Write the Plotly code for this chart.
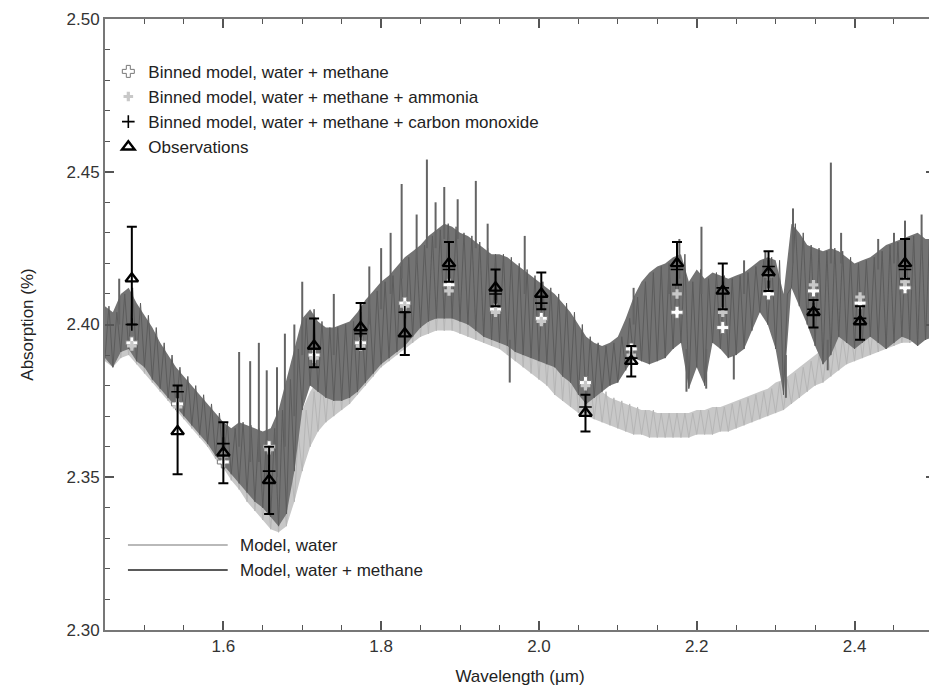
import numpy as np
import plotly.graph_objects as go

# ---------------- data ----------------
# model spectra: envelope of the high-resolution spectra on a 0.01 um grid
grid_start = 1.45
grid_step = 0.01

wm_hi = [  # model, water + methane (upper edge of the dense band)
    2.406, 2.404, 2.410, 2.412, 2.407, 2.403, 2.399, 2.394, 2.390, 2.386,
    2.383, 2.380, 2.377, 2.374, 2.371, 2.368, 2.366, 2.368, 2.367, 2.366,
    2.365, 2.366, 2.372, 2.382, 2.392, 2.402, 2.405, 2.401, 2.399, 2.399,
    2.400, 2.401, 2.404, 2.408, 2.411, 2.414, 2.416, 2.419, 2.422, 2.424,
    2.426, 2.429, 2.431, 2.433, 2.432, 2.430, 2.429, 2.427, 2.425, 2.423,
    2.423, 2.422, 2.420, 2.418, 2.416, 2.414, 2.412, 2.410, 2.407, 2.404,
    2.400, 2.396, 2.394, 2.393, 2.394, 2.396, 2.402, 2.409, 2.414, 2.417,
    2.419, 2.420, 2.422, 2.423, 2.414, 2.418, 2.415, 2.417, 2.416, 2.415,
    2.416, 2.417, 2.419, 2.421, 2.422, 2.421, 2.410, 2.433, 2.430, 2.426,
    2.425, 2.424, 2.425, 2.424, 2.422, 2.420, 2.421, 2.422, 2.424, 2.426,
    2.427, 2.428, 2.429, 2.430, 2.428, 2.428]
wm_lo = [  # model, water + methane (lower edge)
    2.389, 2.386, 2.391, 2.392, 2.388, 2.386, 2.382, 2.379, 2.376, 2.373,
    2.370, 2.367, 2.364, 2.361, 2.357, 2.354, 2.351, 2.348, 2.345, 2.342,
    2.340, 2.337, 2.334, 2.338, 2.352, 2.372, 2.380, 2.378, 2.376, 2.375,
    2.375, 2.376, 2.378, 2.381, 2.384, 2.387, 2.389, 2.391, 2.393, 2.396,
    2.399, 2.401, 2.402, 2.402, 2.402, 2.401, 2.400, 2.398, 2.396, 2.395,
    2.394, 2.393, 2.391, 2.390, 2.389, 2.388, 2.387, 2.386, 2.383, 2.381,
    2.377, 2.374, 2.376, 2.378, 2.380, 2.381, 2.385, 2.389, 2.388, 2.387,
    2.388, 2.389, 2.392, 2.394, 2.379, 2.386, 2.380, 2.394, 2.392, 2.389,
    2.390, 2.392, 2.398, 2.404, 2.400, 2.392, 2.377, 2.412, 2.406, 2.400,
    2.393, 2.387, 2.390, 2.396, 2.394, 2.392, 2.394, 2.396, 2.394, 2.392,
    2.394, 2.396, 2.395, 2.393, 2.395, 2.396]

w_hi = [  # model, water (upper edge)
    2.402, 2.400, 2.403, 2.404, 2.401, 2.398, 2.395, 2.391, 2.388, 2.385,
    2.381, 2.378, 2.375, 2.372, 2.369, 2.366, 2.362, 2.359, 2.356, 2.353,
    2.350, 2.348, 2.350, 2.356, 2.364, 2.372, 2.378, 2.382, 2.385, 2.388,
    2.391, 2.394, 2.397, 2.400, 2.403, 2.406, 2.408, 2.410, 2.412, 2.414,
    2.416, 2.417, 2.418, 2.418, 2.418, 2.417, 2.416, 2.415, 2.414, 2.413,
    2.412, 2.410, 2.408, 2.406, 2.404, 2.402, 2.399, 2.396, 2.393, 2.390,
    2.386, 2.383, 2.380, 2.378, 2.376, 2.375, 2.374, 2.373, 2.372, 2.372,
    2.371, 2.371, 2.371, 2.371, 2.371, 2.372, 2.372, 2.373, 2.373, 2.374,
    2.375, 2.376, 2.377, 2.378, 2.379, 2.381, 2.382, 2.384, 2.386, 2.388,
    2.390, 2.392, 2.394, 2.396, 2.398, 2.400, 2.401, 2.402, 2.403, 2.404,
    2.405, 2.406, 2.407, 2.408, 2.408, 2.409]
w_lo = [  # model, water (lower edge)
    2.388, 2.386, 2.389, 2.390, 2.387, 2.384, 2.381, 2.378, 2.375, 2.372,
    2.369, 2.366, 2.363, 2.360, 2.356, 2.353, 2.349, 2.346, 2.342, 2.339,
    2.336, 2.333, 2.332, 2.334, 2.342, 2.352, 2.360, 2.365, 2.368, 2.370,
    2.372, 2.374, 2.377, 2.380, 2.383, 2.386, 2.388, 2.390, 2.392, 2.394,
    2.396, 2.397, 2.398, 2.398, 2.398, 2.397, 2.396, 2.395, 2.394, 2.393,
    2.392, 2.390, 2.388, 2.386, 2.384, 2.382, 2.380, 2.377, 2.375, 2.373,
    2.371, 2.370, 2.369, 2.368, 2.367, 2.366, 2.365, 2.364, 2.364, 2.363,
    2.363, 2.363, 2.363, 2.363, 2.363, 2.364, 2.364, 2.364, 2.365, 2.365,
    2.366, 2.367, 2.368, 2.369, 2.370, 2.371, 2.372, 2.374, 2.376, 2.378,
    2.380, 2.381, 2.383, 2.385, 2.387, 2.388, 2.389, 2.390, 2.391, 2.392,
    2.393, 2.394, 2.394, 2.395, 2.395, 2.396]

# narrow spectral features of the water + methane model (tip and foot)
spike_x = [1.468, 1.620, 1.634, 1.645, 1.655, 1.668, 1.678, 1.690, 1.700,
           1.740, 1.785, 1.800, 1.812, 1.826, 1.845, 1.858, 1.869, 1.880,
           1.897, 1.920, 1.935, 1.963, 1.982, 2.120, 2.165, 2.178, 2.187,
           2.206, 2.212, 2.247, 2.260, 2.287, 2.313, 2.322, 2.366, 2.370,
           2.383, 2.430, 2.450, 2.464, 2.485]
spike_tip = [2.415, 2.391, 2.388, 2.394, 2.385, 2.386, 2.397, 2.400, 2.414,
             2.410, 2.419, 2.425, 2.430, 2.446, 2.436, 2.454, 2.440, 2.445,
             2.441, 2.447, 2.433, 2.381, 2.429, 2.412, 2.418, 2.428, 2.378,
             2.432, 2.379, 2.382, 2.421, 2.424, 2.376, 2.438, 2.385, 2.453,
             2.430, 2.428, 2.430, 2.434, 2.436]
spike_foot = [2.400, 2.360, 2.355, 2.355, 2.350, 2.350, 2.360, 2.370, 2.390,
              2.390, 2.400, 2.405, 2.410, 2.415, 2.420, 2.425, 2.425, 2.428,
              2.428, 2.425, 2.420, 2.395, 2.410, 2.400, 2.410, 2.415, 2.392,
              2.410, 2.392, 2.390, 2.410, 2.415, 2.390, 2.420, 2.395, 2.420,
              2.420, 2.418, 2.420, 2.420, 2.425]

# binned points and observations
bin_x = [1.484, 1.542, 1.600, 1.658, 1.715, 1.774, 1.830, 1.886, 1.945,
         2.003, 2.059, 2.117, 2.175, 2.233, 2.291, 2.348, 2.407, 2.464]
bin_wm = [2.394, 2.374, 2.355, 2.360, 2.390, 2.394, 2.407, 2.413, 2.405,
          2.402, 2.381, 2.392, 2.404, 2.399, 2.410, 2.411, 2.407, 2.412]
bin_wm_nh3 = [2.393, 2.373, 2.357, 2.359, 2.389, 2.393, 2.406, 2.411, 2.404,
              2.401, 2.380, 2.390, 2.410, 2.404, 2.416, 2.413, 2.409, 2.414]
bin_wm_co = [2.400, 2.378, 2.361, 2.352, 2.392, 2.397, 2.404, 2.418, 2.410,
             2.407, 2.373, 2.389, 2.418, 2.412, 2.419, 2.405, 2.402, 2.418]
obs_y = [2.415, 2.365, 2.358, 2.349, 2.393, 2.399, 2.397, 2.420, 2.412,
         2.410, 2.371, 2.388, 2.420, 2.411, 2.417, 2.404, 2.401, 2.420]
obs_err_plus = [0.017, 0.015, 0.010, 0.011, 0.009, 0.008, 0.007, 0.007, 0.006,
                0.007, 0.006, 0.005, 0.007, 0.009, 0.007, 0.004, 0.005, 0.008]
obs_err_minus = [0.015, 0.014, 0.010, 0.011, 0.007, 0.007, 0.007, 0.006, 0.006,
                 0.005, 0.006, 0.005, 0.007, 0.006, 0.006, 0.005, 0.006, 0.005]

x_ticks = [1.6, 1.8, 2.0, 2.2, 2.4]
x_tick_labels = ["1.6", "1.8", "2.0", "2.2", "2.4"]
y_ticks = [2.30, 2.35, 2.40, 2.45, 2.50]
y_tick_labels = ["2.30", "2.35", "2.40", "2.45", "2.50"]

# ---------------- figure ----------------
grid = np.round(grid_start + grid_step * np.arange(len(wm_hi)), 4)
FONT = "Liberation Sans, Arial, Helvetica, sans-serif"

fig = go.Figure()


def add_band(hi, lo, fill_col, line_col):
    xs = list(grid) + list(grid[::-1])
    ys = list(hi) + list(lo[::-1])
    fig.add_trace(go.Scatter(x=xs, y=ys, fill="toself", fillcolor=fill_col,
                             mode="lines", line=dict(width=0),
                             hoverinfo="skip", showlegend=False))
    zx, zy = [], []
    for i in range(len(grid)):
        zx += [grid[i], grid[i] + grid_step / 2]
        zy += [lo[i], hi[i]]
    fig.add_trace(go.Scatter(x=zx, y=zy, mode="lines",
                             line=dict(color=line_col, width=1),
                             hoverinfo="skip", showlegend=False))


add_band(w_hi, w_lo, "rgb(200,200,200)", "rgb(182,182,182)")
add_band(wm_hi, wm_lo, "rgb(115,115,115)", "rgb(92,92,92)")

sx, sy = [], []
for x, t, f in zip(spike_x, spike_tip, spike_foot):
    sx += [x, x, None]
    sy += [f, t, None]
fig.add_trace(go.Scatter(x=sx, y=sy, mode="lines",
                         line=dict(color="rgb(100,100,100)", width=2),
                         hoverinfo="skip", showlegend=False))

fig.add_trace(go.Scatter(
    x=bin_x, y=bin_wm, mode="markers", name="Binned model, water + methane",
    marker=dict(symbol="cross", size=10, color="white",
                line=dict(color="rgb(120,120,120)", width=1))))
fig.add_trace(go.Scatter(
    x=bin_x, y=bin_wm_nh3, mode="markers",
    name="Binned model, water + methane + ammonia",
    marker=dict(symbol="cross", size=8, color="rgb(200,200,200)",
                line=dict(width=0))))
fig.add_trace(go.Scatter(
    x=bin_x, y=bin_wm_co, mode="markers",
    name="Binned model, water + methane + carbon monoxide",
    marker=dict(symbol="cross-thin", size=9, color="black",
                line=dict(color="black", width=1.6))))
fig.add_trace(go.Scatter(
    x=bin_x, y=obs_y, mode="markers", name="Observations",
    error_y=dict(type="data", symmetric=False, array=obs_err_plus,
                 arrayminus=obs_err_minus, color="black",
                 thickness=2, width=5),
    marker=dict(symbol="triangle-up-open", size=11, color="black",
                line=dict(color="black", width=2.4))))

# page layout (pixels); the plot area runs past the right edge of the window
PAGE_W, PAGE_H = 937, 694
L, T, H = 105, 19, 611
W = PAGE_W - L


def px_x(p):
    return (p - L) / W


def px_y(p):
    return (T + H - p) / H


# second legend block (model lines), drawn in paper coordinates
for py, col, label in [(545, "rgb(185,185,185)", "Model, water"),
                       (570, "rgb(90,90,90)", "Model, water + methane")]:
    fig.add_shape(type="line", xref="paper", yref="paper",
                  x0=px_x(128), x1=px_x(228), y0=px_y(py), y1=px_y(py),
                  line=dict(color=col, width=2))
    fig.add_annotation(xref="paper", yref="paper", x=px_x(238), y=px_y(py),
                       text=label, showarrow=False, xanchor="left",
                       yanchor="middle",
                       font=dict(family=FONT, size=17, color="#222"))

axis_common = dict(ticks="inside", ticklen=9, tickwidth=1.5, tickcolor="#555",
                   showline=True, linecolor="#777", linewidth=2,
                   mirror="ticks", showgrid=False, zeroline=False,
                   tickfont=dict(family=FONT, size=17, color="#333"))

fig.update_xaxes(range=[1.45, 2.502], tickvals=x_ticks, ticktext=x_tick_labels,
                 minor=dict(ticks="inside", ticklen=5, tickwidth=1.2,
                            tickcolor="#555", tick0=1.45, dtick=0.05),
                 title=dict(text="Wavelength (µm)", standoff=15,
                            font=dict(family=FONT, size=17, color="#222")),
                 **axis_common)
fig.update_yaxes(range=[2.30, 2.50], tickvals=y_ticks, ticktext=y_tick_labels,
                 minor=dict(ticks="inside", ticklen=5, tickwidth=1.2,
                            tickcolor="#555", tick0=2.30, dtick=0.01),
                 title=dict(text="Absorption (%)", standoff=29,
                            font=dict(family=FONT, size=17, color="#222")),
                 **axis_common)

fig.update_layout(
    width=PAGE_W, height=PAGE_H,
    margin=dict(l=L, r=0, t=T, b=PAGE_H - T - H),
    plot_bgcolor="white", paper_bgcolor="white",
    font=dict(family=FONT, size=17, color="#222"),
    legend=dict(x=0.004, y=0.943, xanchor="left", yanchor="top",
                bgcolor="rgba(0,0,0,0)", tracegroupgap=0,
                font=dict(family=FONT, size=17, color="#222")),
)

fig.write_html(
    "out.html",
    config={"displayModeBar": False},
    post_script="document.body.style.margin='0';"
                "document.body.style.overflow='hidden';",
)
